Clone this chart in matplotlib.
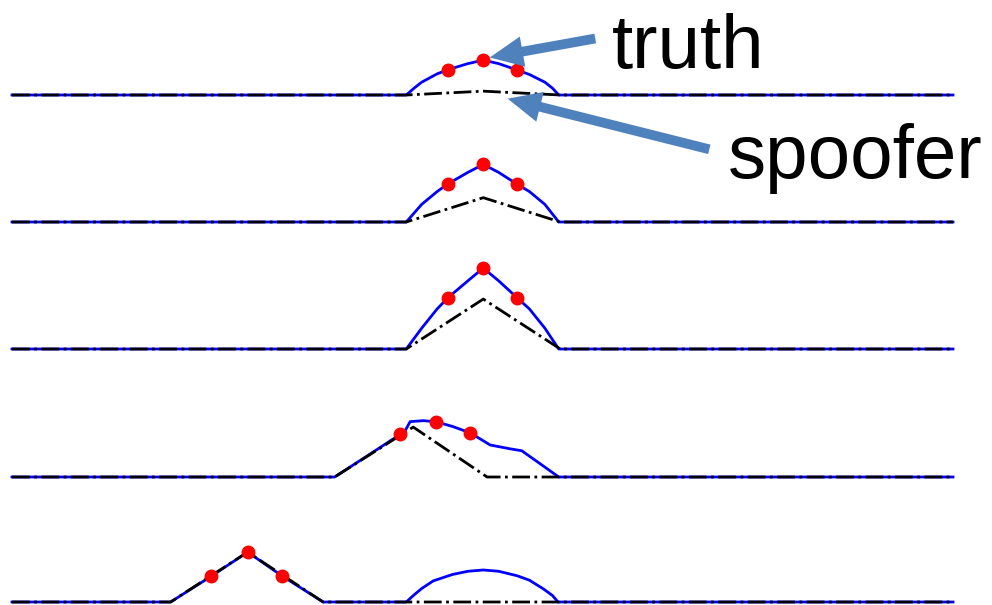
import numpy as np
import matplotlib.pyplot as plt
from matplotlib.patches import FancyArrowPatch

# x in chips (code delay), y in units of the truth peak
x_left, x_right = -6.12, 6.10

# blue: received (truth + spoofer) correlation, one list per row
blue_x = [
    [x_left, -1.0, -0.9, -0.8, -0.6, -0.46, -0.2, 0.0, 0.2, 0.44, 0.6, 0.8, 0.9, 0.98, x_right],
    [x_left, -1.0, -0.8, -0.6, -0.46, -0.2, 0.0, 0.2, 0.44, 0.6, 0.8, 0.98, x_right],
    [x_left, -1.0, -0.8, -0.6, -0.46, -0.2, 0.0, 0.2, 0.44, 0.6, 0.8, 0.98, x_right],
    [x_left, -1.93, -1.5, -1.08, -1.02, -0.95, -0.78, -0.62, -0.4, -0.17, 0.09, 0.35, 0.5, 0.7, 0.98, x_right],
    [x_left, -4.06, -3.53, -3.06, -2.61, -2.08, -1.0, -0.9, -0.8, -0.65, -0.4, -0.2, 0.0, 0.2, 0.44, 0.6, 0.78, 0.9, 0.97, x_right],
]
blue_y = [
    [0, 0, 0.21, 0.40, 0.66, 0.79, 0.98, 1.09, 0.98, 0.78, 0.64, 0.40, 0.21, 0, 0],
    [0, 0, 0.55, 0.95, 1.19, 1.55, 1.80, 1.55, 1.18, 0.95, 0.55, 0, 0],
    [0, 0, 0.65, 1.25, 1.60, 2.13, 2.53, 2.13, 1.60, 1.25, 0.65, 0, 0],
    [0, 0, 0.67, 1.33, 1.42, 1.73, 1.76, 1.73, 1.58, 1.38, 1.00, 0.88, 0.82, 0.48, 0, 0],
    [0, 0, 0.81, 1.56, 0.81, 0, 0, 0.22, 0.42, 0.66, 0.86, 0.96, 1.0, 0.96, 0.82, 0.68, 0.41, 0.2, 0, 0],
]

# black dash-dot: spoofer correlation
spoof_x = [
    [x_left, -1.0, 0.0, 1.0, x_right],
    [x_left, -1.0, 0.0, 1.0, x_right],
    [x_left, -1.0, 0.0, 1.0, x_right],
    [x_left, -1.93, -0.91, 0.05, x_right],
    [x_left, -4.06, -3.06, -2.08, x_right],
]
spoof_y = [
    [0, 0, 0.12, 0, 0],
    [0, 0, 0.76, 0, 0],
    [0, 0, 1.56, 0, 0],
    [0, 0, 1.56, 0, 0],
    [0, 0, 1.56, 0, 0],
]

# early / prompt / late correlator outputs
dots_x = [
    [-0.46, 0.0, 0.44],
    [-0.46, 0.0, 0.44],
    [-0.46, 0.0, 0.44],
    [-1.08, -0.62, -0.17],
    [-3.53, -3.06, -2.61],
]
dots_y = [
    [0.79, 1.09, 0.78],
    [1.19, 1.80, 1.18],
    [1.60, 2.53, 1.60],
    [1.33, 1.73, 1.38],
    [0.81, 1.56, 0.81],
]

W, H = 992, 605
baselines = [95, 222, 349, 477, 602]   # pixel rows from top
px_per_unit = 32.0
ymin, ymax = -0.15, 3.82

fig = plt.figure(figsize=(W / 100, H / 100), dpi=100)

for i, b in enumerate(baselines):
    bottom = (H - b) + ymin * px_per_unit
    height = (ymax - ymin) * px_per_unit
    ax = fig.add_axes([12 / W, bottom / H, 941 / W, height / H])
    ax.plot(blue_x[i], blue_y[i], color='#0000ff', lw=2.0, clip_on=False)
    ax.plot(spoof_x[i], spoof_y[i], color='black', lw=2.0, ls='-.', clip_on=False)
    ax.plot(dots_x[i], dots_y[i], 'o', color='#ff0000', ms=9, mec='#ff0000', clip_on=False, zorder=5)
    ax.set_xlim(x_left, x_right)
    ax.set_ylim(ymin, ymax)
    ax.axis('off')
    ax.patch.set_alpha(0)

arrow_col = '#4f81bd'
t1 = fig.text(612, H - 68, 'truth', fontsize=55, family='Liberation Sans', va='baseline', ha='left')
t2 = fig.text(728, H - 178, 'spoofer', fontsize=55, family='Liberation Sans', va='baseline', ha='left')
t1.set_transform(None)
t2.set_transform(None)

style = 'simple,head_length=24,head_width=22,tail_width=7'
fig.add_artist(FancyArrowPatch((598, H - 38), (487, H - 58), transform=None,
                               arrowstyle=style, color=arrow_col, lw=0, mutation_scale=1))
fig.add_artist(FancyArrowPatch((712, H - 150), (505, H - 98), transform=None,
                               arrowstyle=style, color=arrow_col, lw=0, mutation_scale=1))

fig.savefig('out.png', dpi=100)
